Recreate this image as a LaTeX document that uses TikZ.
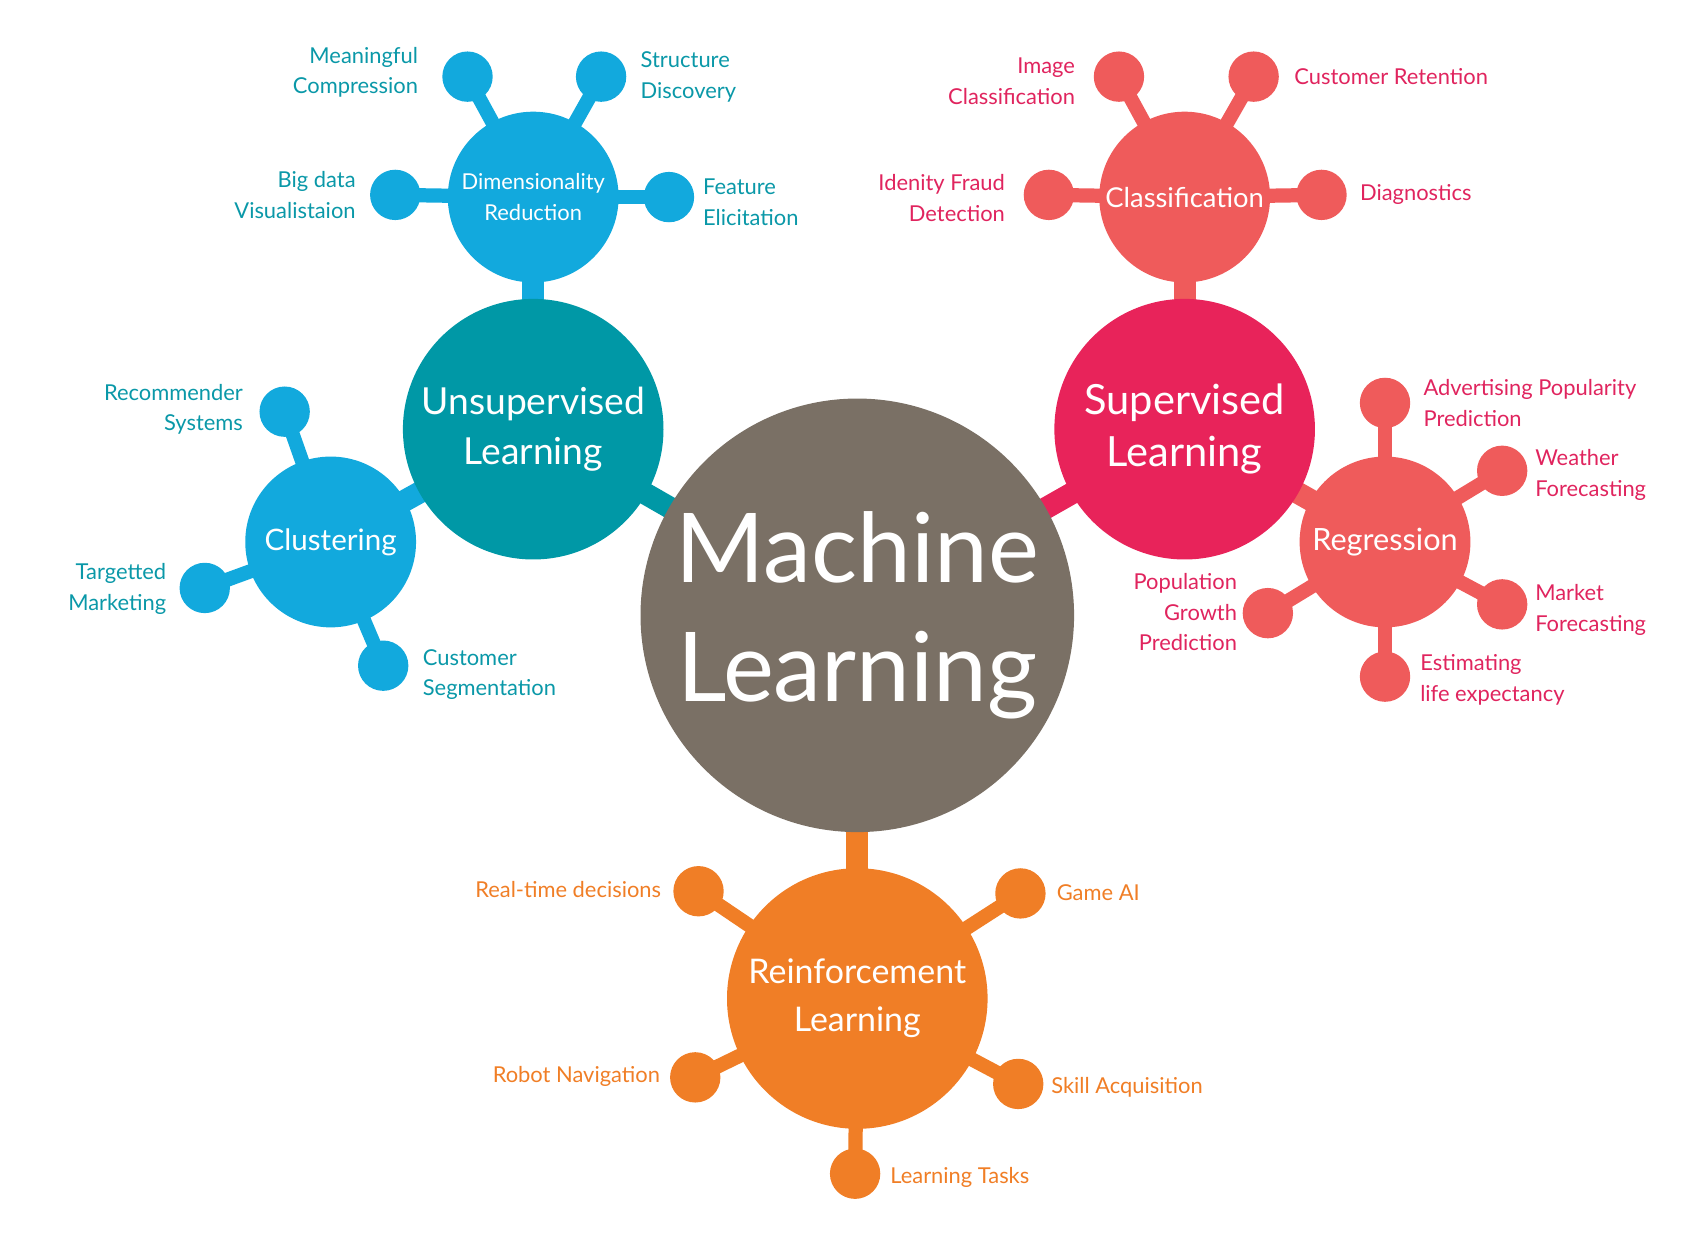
\documentclass[tikz,border=0pt]{standalone}
\usepackage{fontspec}
\setmainfont{Lato}
\begin{document}
\definecolor{gr}{HTML}{7A7065}
\definecolor{teal}{HTML}{0098A6}
\definecolor{sky}{HTML}{12A9DD}
\definecolor{crim}{HTML}{E8235A}
\definecolor{salm}{HTML}{EF5B5B}
\definecolor{ora}{HTML}{F07E26}
\definecolor{tl}{HTML}{0A98A8}
\definecolor{rl}{HTML}{E0245E}
\begin{tikzpicture}[x=1pt,y=-1pt,
  circ/.style={circle,inner sep=0pt,minimum size=#1,text=white,align=center},
  leaf/.style={circle,inner sep=0pt,minimum size=46,fill=#1},
  lk/.style={line width=13pt},
  hk/.style={line width=20pt},
  lab/.style={font=\fontsize{20}{28}\selectfont,inner sep=0pt}]
\useasboundingbox (0,0) rectangle (1560,1142);
% hubs
\node[circ=396,fill=gr,font=\fontsize{88}{108}\selectfont] (ML) at (783,562) {Machine\\Learning};
\node[circ=238,fill=teal,font=\fontsize{34}{46}\selectfont] (U) at (487,392) {Unsupervised\\Learning};
\node[circ=238,fill=crim,font=\fontsize{38}{48}\selectfont] (S) at (1082,392) {Supervised\\Learning};
\node[circ=238,fill=ora,font=\fontsize{31}{44}\selectfont] (R) at (783,912) {Reinforcement\\Learning};
\node[circ=156,fill=sky,font=\fontsize{20}{28}\selectfont] (D) at (487,180) {Dimensionality\\Reduction};
\node[circ=156,fill=sky,font=\fontsize{27}{32}\selectfont] (C) at (302,495) {Clustering};
\node[circ=156,fill=salm,font=\fontsize{25}{32}\selectfont] (K) at (1082,180) {Classification};
\node[circ=156,fill=salm,font=\fontsize{28}{32}\selectfont] (G) at (1265,495) {Regression};
% leaves
\node[leaf=sky] (d1) at (427,70) {}; \node[leaf=sky] (d2) at (549,70) {};
\node[leaf=sky] (d3) at (361,178) {}; \node[leaf=sky] (d4) at (611,180) {};
\node[leaf=sky] (c1) at (260,376) {}; \node[leaf=sky] (c2) at (187,537) {}; \node[leaf=sky] (c3) at (350,608) {};
\node[leaf=salm] (k1) at (1022,70) {}; \node[leaf=salm] (k2) at (1145,70) {};
\node[leaf=salm] (k3) at (958,178) {}; \node[leaf=salm] (k4) at (1207,178) {};
\node[leaf=salm] (r1) at (1265,368) {}; \node[leaf=salm] (r2) at (1372,430) {};
\node[leaf=salm] (r3) at (1158,560) {}; \node[leaf=salm] (r4) at (1372,552) {}; \node[leaf=salm] (r5) at (1265,618) {};
\node[leaf=ora] (e1) at (638,814) {}; \node[leaf=ora] (e2) at (932,816) {};
\node[leaf=ora] (e3) at (635,984) {}; \node[leaf=ora] (e4) at (930,990) {}; \node[leaf=ora] (e5) at (781,1072) {};
% connectors (behind)
\begin{scope}[on background layer/.style={}]
\end{scope}
\begin{pgfinterruptboundingbox}\end{pgfinterruptboundingbox}
% labels
\node[lab,text=tl,align=right,anchor=east] at (382,66) {Meaningful\\Compression};
\node[lab,text=tl,align=left,anchor=west] at (585,70) {Structure\\Discovery};
\node[lab,text=tl,align=right,anchor=east] at (325,178) {Big data\\Visualistaion};
\node[lab,text=tl,align=left,anchor=west] at (642,185) {Feature\\Elicitation};
\node[lab,text=tl,align=right,anchor=east] at (222,374) {Recommender\\Systems};
\node[lab,text=tl,align=right,anchor=east] at (152,538) {Targetted\\Marketing};
\node[lab,text=tl,align=left,anchor=west] at (386,616) {Customer\\Segmentation};
\node[lab,text=rl,align=right,anchor=east] at (982,74) {Image\\Classification};
\node[lab,text=rl,align=left,anchor=west] at (1182,70) {Customer Retention};
\node[lab,text=rl,align=right,anchor=east] at (918,181) {Idenity Fraud\\Detection};
\node[lab,text=rl,align=left,anchor=west] at (1242,178) {Diagnostics};
\node[lab,text=rl,align=left,anchor=west] at (1300,368) {Advertising Popularity\\Prediction};
\node[lab,text=rl,align=left,anchor=west] at (1402,434) {Weather\\Forecasting};
\node[lab,text=rl,align=right,anchor=east] at (1130,559) {Population\\Growth\\Prediction};
\node[lab,text=rl,align=left,anchor=west] at (1402,557) {Market\\Forecasting};
\node[lab,text=rl,align=left,anchor=west] at (1297,621) {Estimating\\life expectancy};
\node[lab,text=ora,anchor=east] at (604,812) {Real-time decisions};
\node[lab,text=ora,anchor=west] at (965,815) {Game AI};
\node[lab,text=ora,anchor=east] at (603,983) {Robot Navigation};
\node[lab,text=ora,anchor=west] at (960,993) {Skill Acquisition};
\node[lab,text=ora,anchor=west] at (813,1075) {Learning Tasks};
% connectors drawn behind via pgf layers
\pgfdeclarelayer{bg}\pgfsetlayers{bg,main}
\begin{pgfonlayer}{bg}
\draw[hk,teal] (ML.center) -- (U.center); \draw[hk,crim] (ML.center) -- (S.center); \draw[hk,ora] (ML.center) -- (R.center);
\draw[hk,sky] (U.center) -- (D.center); \draw[hk,sky] (U.center) -- (C.center);
\draw[hk,salm] (S.center) -- (K.center); \draw[hk,salm] (S.center) -- (G.center);
\foreach \p in {d1,d2,d3,d4}{\draw[lk,sky] (D.center) -- (\p.center);}
\foreach \p in {c1,c2,c3}{\draw[lk,sky] (C.center) -- (\p.center);}
\foreach \p in {k1,k2,k3,k4}{\draw[lk,salm] (K.center) -- (\p.center);}
\foreach \p in {r1,r2,r3,r4,r5}{\draw[lk,salm] (G.center) -- (\p.center);}
\foreach \p in {e1,e2,e3,e4,e5}{\draw[lk,ora] (R.center) -- (\p.center);}
\end{pgfonlayer}
\end{tikzpicture}
\end{document}
